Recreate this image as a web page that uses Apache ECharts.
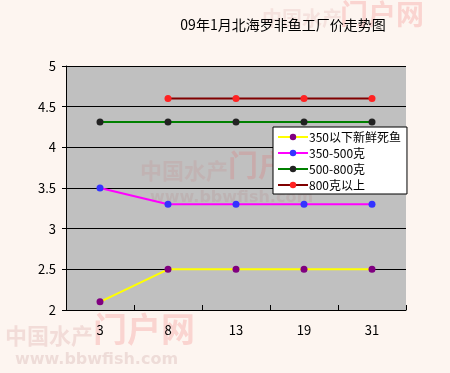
<!DOCTYPE html>
<html><head><meta charset="utf-8">
<script src="https://cdn.jsdelivr.net/npm/echarts@6/dist/echarts.min.js"></script>
<style>html,body{margin:0;padding:0;background:#fdf5f0}#c{width:450px;height:373px}</style>
</head><body><div id="c"></div>
<script>
const categories = ['3', '8', '13', '19', '31'];
const s1Name = '350以下新鲜死鱼';
const s1 = [2.1, 2.5, 2.5, 2.5, 2.5];
const s2Name = '350-500克';
const s2 = [3.5, 3.3, 3.3, 3.3, 3.3];
const s3Name = '500-800克';
const s3 = [4.31, 4.31, 4.31, 4.31, 4.31];
const s4Name = '800克以上';
const s4 = [null, 4.6, 4.6, 4.6, 4.6];

const font = '"Noto Sans CJK SC", "DejaVu Sans", sans-serif';
function mk(name, data, lineColor, markColor) {
  return {
    name, type: 'line', data,
    symbol: 'circle', symbolSize: 7,
    lineStyle: { color: lineColor, width: 2 },
    itemStyle: { color: markColor },
    connectNulls: false,
    animation: false
  };
}
const chart = echarts.init(document.getElementById('c'));
chart.setOption({
  backgroundColor: '#fdf5f0',
  animation: false,
  title: {
    text: '09年1月北海罗非鱼工厂价走势图',
    left: 278, top: 13, textAlign: 'center',
    textStyle: { fontFamily: font, fontSize: 14, fontWeight: 'normal', color: '#000' }
  },
  graphic: [
    { type: 'text', left: 140, top: 160, style: { text: '中国水产', fill: 'rgba(200,120,120,0.18)', font: 'bold 22px "Noto Sans CJK SC"' } },
    { type: 'text', left: 228, top: 150, style: { text: '门户网', fill: 'rgba(240,80,80,0.18)', font: 'bold 30px "Noto Sans CJK SC"' } },
    { type: 'text', left: 150, top: 190, style: { text: 'www.bbwfish.com', fill: 'rgba(180,120,120,0.18)', font: 'bold 16px "DejaVu Sans"' } },
    { type: 'text', left: 5, top: 325, style: { text: '中国水产', fill: 'rgba(200,120,120,0.2)', font: 'bold 22px "Noto Sans CJK SC"' } },
    { type: 'text', left: 93, top: 312, style: { text: '门户网', fill: 'rgba(240,80,80,0.2)', font: 'bold 34px "Noto Sans CJK SC"' } },
    { type: 'text', left: 15, top: 352, style: { text: 'www.bbwfish.com', fill: 'rgba(180,120,120,0.2)', font: 'bold 16px "DejaVu Sans"' } },
    { type: 'text', left: 340, top: 0, style: { text: '门户网', fill: 'rgba(240,80,80,0.2)', font: 'bold 28px "Noto Sans CJK SC"' } },
    { type: 'text', left: 262, top: 8, style: { text: '中国水产', fill: 'rgba(200,120,120,0.15)', font: 'bold 20px "Noto Sans CJK SC"' } }
  ],
  legend: {
    orient: 'vertical', left: 273, top: 127,
    backgroundColor: '#fff', borderColor: '#000', borderWidth: 1, borderRadius: 0,
    padding: [4, 6, 3, 4], itemGap: 4, itemWidth: 30, itemHeight: 8,
    textStyle: { fontFamily: font, fontSize: 12, color: '#000', padding: [0, 0, 0, -4] },
    data: [s1Name, s2Name, s3Name, s4Name]
  },
  grid: { left: 66, top: 66, width: 340, height: 244, backgroundColor: '#c0c0c0', show: true, borderWidth: 0 },
  xAxis: {
    type: 'category', data: categories, boundaryGap: true,
    axisLine: { lineStyle: { color: '#000', width: 1 } },
    axisTick: { show: true, length: 5, inside: true, lineStyle: { color: '#000' } },
    axisLabel: { fontFamily: font, fontSize: 13, color: '#000', margin: 14 }
  },
  yAxis: {
    type: 'value', min: 2, max: 5, interval: 0.5,
    axisLine: { show: true, lineStyle: { color: '#000' } },
    axisTick: { show: true, length: 4, lineStyle: { color: '#000' } },
    axisLabel: { fontFamily: font, fontSize: 13, color: '#000', margin: 10 },
    splitLine: { lineStyle: { color: '#000', width: 1 } }
  },
  series: [
    mk(s1Name, s1, '#ffff00', '#800080'),
    mk(s2Name, s2, '#ff00ff', '#3333ff'),
    mk(s3Name, s3, '#008000', '#222222'),
    mk(s4Name, s4, '#800000', '#ff2222')
  ]
});
</script></body></html>
